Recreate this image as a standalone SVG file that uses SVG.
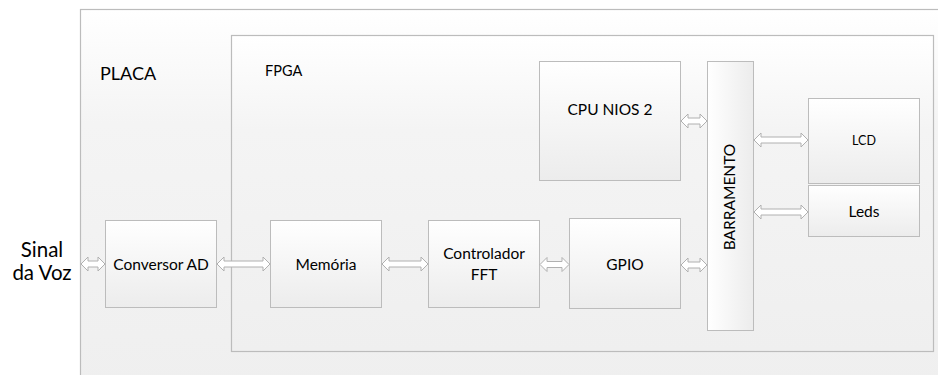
<svg xmlns="http://www.w3.org/2000/svg" width="938" height="375" viewBox="0 0 938 375">
<defs>
<linearGradient id="g" x1="0" y1="0" x2="0" y2="1">
<stop offset="0" stop-color="#ffffff"/>
<stop offset="1" stop-color="#ececec"/>
</linearGradient>
<linearGradient id="bg" x1="0" y1="0" x2="0" y2="1">
<stop offset="0" stop-color="#ffffff"/>
<stop offset="0.3" stop-color="#f4f4f4"/>
<stop offset="1" stop-color="#efefef"/>
</linearGradient>
<linearGradient id="bar" x1="0" y1="0" x2="1" y2="0">
<stop offset="0" stop-color="#ffffff"/>
<stop offset="1" stop-color="#ececec"/>
</linearGradient>
</defs>
<style>
.box{fill:url(#g);stroke:#bcbcbc;stroke-width:1}
.cont{fill:url(#bg);stroke:#bcbcbc;stroke-width:1.2}
.t{font-family:Lato,"Open Sans","Liberation Sans",sans-serif;fill:#000;text-anchor:middle;font-size:15.5px}
.arr{fill:#ffffff;stroke:#b0b0b0;stroke-width:1;stroke-linejoin:miter}
</style>
<rect width="938" height="375" fill="#ffffff"/>
<g id="placa">
<rect class="cont" x="80.5" y="9.5" width="870" height="380"/>
<text class="t" x="100" y="80" style="text-anchor:start;font-size:18px">PLACA</text>
</g>
<g id="fpga">
<rect class="cont" x="231.5" y="35.5" width="702" height="316"/>
<text class="t" x="265" y="76" style="text-anchor:start;font-size:14.5px">FPGA</text>
</g>
<g id="sinal">
<text class="t" x="42" y="257" style="font-size:20.5px">Sinal</text>
<text class="t" x="42" y="280" style="font-size:20.5px">da Voz</text>
</g>
<g id="conversor">
<rect class="box" x="105.5" y="220.5" width="111" height="87"/>
<text class="t" x="161" y="270">Conversor AD</text>
</g>
<g id="memoria">
<rect class="box" x="270.5" y="220.5" width="111" height="87"/>
<text class="t" x="326" y="270">Memória</text>
</g>
<g id="controlador">
<rect class="box" x="428.5" y="220.5" width="111" height="87"/>
<text class="t" x="484" y="259">Controlador</text>
<text class="t" x="484" y="280">FFT</text>
</g>
<g id="gpio">
<rect class="box" x="569.5" y="218.5" width="111" height="90"/>
<text class="t" x="625" y="270">GPIO</text>
</g>
<g id="cpu">
<rect class="box" x="539.5" y="61.5" width="141" height="119"/>
<text class="t" x="610" y="115">CPU NIOS 2</text>
</g>
<g id="barramento">
<rect class="box" x="707.5" y="61.5" width="46" height="269" style="fill:url(#bar)"/>
<text class="t" transform="translate(735,197) rotate(-90)">BARRAMENTO</text>
</g>
<g id="lcd">
<rect class="box" x="808.5" y="98.5" width="111" height="85"/>
<text class="t" x="864" y="145" style="font-size:12.5px">LCD</text>
</g>
<g id="leds">
<rect class="box" x="808.5" y="185.5" width="111" height="51"/>
<text class="t" x="864" y="217">Leds</text>
</g>
<g id="connectors">
<path class="arr" d="M81,264 l7,-7 v4 h10 v-4 l7,7 l-7,7 v-4 h-10 v4 z"/>
<path class="arr" d="M217,264 l7,-7 v4 h39 v-4 l7,7 l-7,7 v-4 h-39 v4 z"/>
<path class="arr" d="M382,264 l7,-7 v4 h32 v-4 l7,7 l-7,7 v-4 h-32 v4 z"/>
<path class="arr" d="M540,264.5 l7,-7 v4 h15 v-4 l7,7 l-7,7 v-4 h-15 v4 z"/>
<path class="arr" d="M681,265 l7,-7 v4 h12 v-4 l7,7 l-7,7 v-4 h-12 v4 z"/>
<path class="arr" d="M681,121 l7,-7 v4 h12 v-4 l7,7 l-7,7 v-4 h-12 v4 z"/>
<path class="arr" d="M754,140 l7,-7 v4 h40 v-4 l7,7 l-7,7 v-4 h-40 v4 z"/>
<path class="arr" d="M754,212 l7,-7 v4 h40 v-4 l7,7 l-7,7 v-4 h-40 v4 z"/>
</g>
</svg>
